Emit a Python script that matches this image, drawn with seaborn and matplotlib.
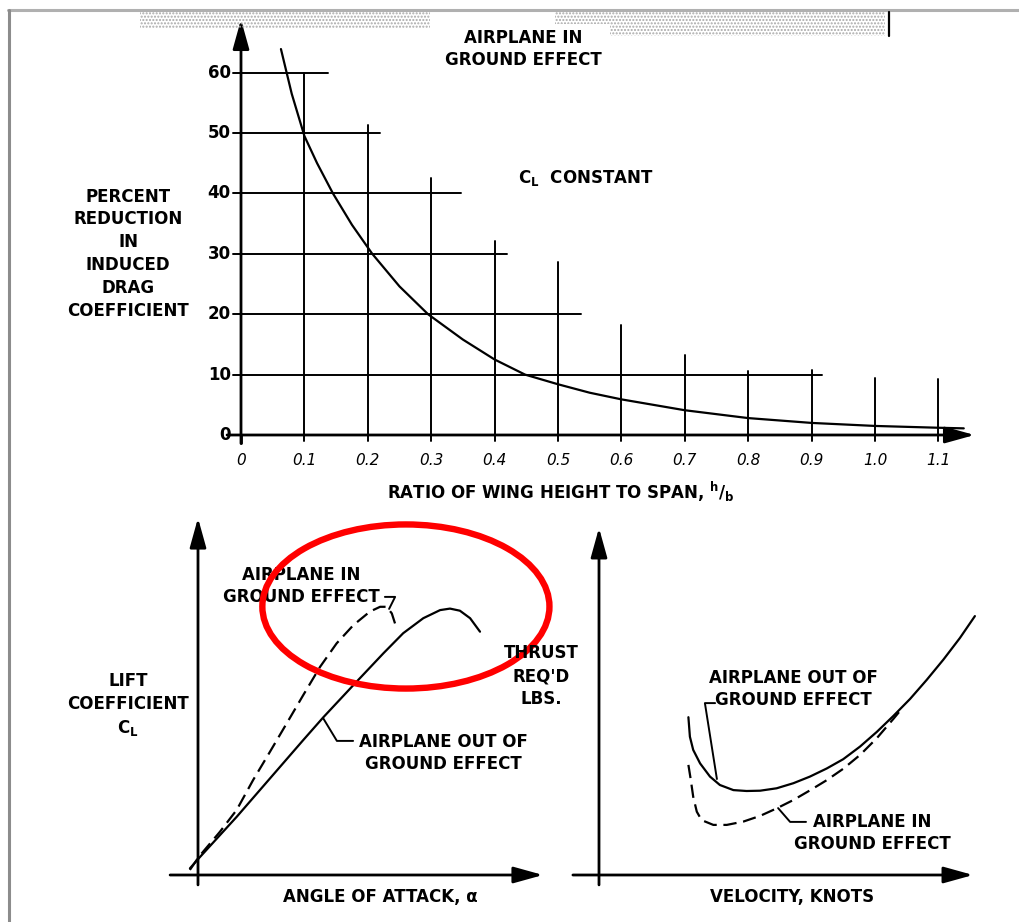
"""
Ground effect charts: induced drag reduction vs h/b, lift curve and thrust required.
"""

import matplotlib
matplotlib.use("Agg")
import matplotlib.pyplot as plt
from matplotlib.patches import Ellipse, Rectangle
from matplotlib.lines import Line2D
import seaborn as sns

sns.set_style("white")
plt.rcParams['font.family'] = ['DejaVu Sans']
plt.rcParams['font.weight'] = 'bold'
plt.rcParams['text.color'] = 'black'
plt.rcParams['mathtext.default'] = 'regular'

# --- top chart: percent reduction in induced drag vs h/b ---
hb = [0.063, 0.08, 0.1, 0.12, 0.145, 0.175, 0.207, 0.25, 0.295, 0.35, 0.4,
      0.448, 0.5, 0.55, 0.6, 0.7, 0.8, 0.9, 1.0, 1.1, 1.14]
reduction = [63.9, 56.5, 49.5, 45.0, 40.0, 34.8, 30.0, 24.6, 20.0, 15.8, 12.5,
             10.0, 8.4, 7.0, 5.9, 4.1, 2.8, 2.0, 1.5, 1.2, 1.1]
y_ticks = [0, 10, 20, 30, 40, 50, 60]
x_ticks = [0, 0.1, 0.2, 0.3, 0.4, 0.5, 0.6, 0.7, 0.8, 0.9, 1.0, 1.1]
x_tick_labels = ["0", "0.1", "0.2", "0.3", "0.4", "0.5", "0.6", "0.7", "0.8",
                 "0.9", "1.0", "1.1"]
# staggered grid: horizontal lines end at these h/b, vertical lines stop at these %
grid_h_levels = [10, 20, 30, 40, 50, 60]
grid_h_ends = [0.916, 0.536, 0.42, 0.347, 0.219, 0.137]
grid_v_pos = [0.1, 0.2, 0.3, 0.4, 0.5, 0.6, 0.7, 0.8, 0.9, 1.0, 1.1]
grid_v_tops = [60, 51.4, 42.5, 32.1, 28.6, 18.2, 13.2, 10.6, 10.8, 9.5, 9.3]

# --- bottom left: lift coefficient vs angle of attack (no scale, relative units) ---
alpha_out = [-0.27, 0.03, 1.29, 2.4, 3.51, 4.18, 5.18, 6.18, 6.84, 7.51, 8.07,
             8.4, 8.73, 9.07, 9.4]
cl_out = [0.22, 0.56, 1.94, 3.22, 4.5, 5.26, 6.33, 7.39, 8.06, 8.56, 8.83,
          8.88, 8.81, 8.56, 8.11]
alpha_in = [-0.27, 0.03, 0.73, 1.29, 1.84, 2.4, 2.96, 3.51, 4.07, 4.62, 5.18,
            5.73, 6.07, 6.29, 6.46, 6.62]
cl_in = [0.17, 0.61, 1.44, 2.17, 3.17, 4.11, 5.06, 6.0, 6.94, 7.72, 8.33,
         8.78, 8.94, 8.94, 8.72, 8.22]

# --- bottom right: thrust required vs velocity (relative units) ---
vel_out = [2.98, 3.03, 3.14, 3.37, 3.7, 4.03, 4.48, 4.92, 5.37, 5.92, 6.48,
           7.03, 7.59, 8.14, 8.7, 9.26, 9.81, 10.37, 10.92, 11.48, 12.03, 12.53]
thr_out = [5.26, 4.61, 4.17, 3.72, 3.28, 3.0, 2.83, 2.8, 2.81, 2.89, 3.06,
           3.28, 3.55, 3.86, 4.28, 4.77, 5.3, 5.87, 6.5, 7.18, 7.9, 8.63]
vel_in = [2.98, 3.06, 3.14, 3.26, 3.42, 3.81, 4.26, 4.81, 5.37, 5.92, 6.48,
          7.03, 7.59, 8.14, 8.7, 9.26, 9.81, 10.1]
thr_in = [3.67, 3.17, 2.61, 2.11, 1.83, 1.67, 1.67, 1.78, 1.97, 2.22, 2.5,
          2.82, 3.16, 3.54, 4.0, 4.56, 5.2, 5.55]

W, H = 1020, 922
FS = 12
DASH = (0, (6, 3))


def box(left, top, right, bottom):
    """Axes position from pixel edges."""
    return [left / W, 1 - bottom / H, (right - left) / W, (bottom - top) / H]


def axis_arrow(ax, start, tip):
    ax.annotate('', xy=tip, xytext=start, annotation_clip=False,
                arrowprops=dict(arrowstyle='-|>,head_length=0.9,head_width=0.25',
                                color='black', lw=2, mutation_scale=20,
                                shrinkA=0, shrinkB=0))


def bare(ax):
    for s in ax.spines.values():
        s.set_visible(False)
    ax.set_xticks([])
    ax.set_yticks([])
    ax.patch.set_alpha(0)


fig = plt.figure(figsize=(W / 100, H / 100), dpi=100)

# scan frame and smudges
fig.add_artist(Line2D([8 / W, 1], [1 - 10 / H, 1 - 10 / H], color='#b0b0b0', lw=2.2,
                      transform=fig.transFigure))
fig.add_artist(Line2D([9 / W, 9 / W], [0, 1 - 10 / H], color='#8c8c8c', lw=2.2,
                      transform=fig.transFigure))
for (l, t, r, b) in [(140, 11, 430, 28), (555, 11, 610, 24), (610, 11, 885, 36)]:
    fig.add_artist(Rectangle((l / W, 1 - b / H), (r - l) / W, (b - t) / H,
                             transform=fig.transFigure, fill=False, lw=0,
                             hatch='.....', edgecolor='#a8a8a8'))
fig.add_artist(Line2D([889 / W, 889 / W], [1 - 12 / H, 1 - 36 / H], color='black',
                      lw=1.6, transform=fig.transFigure))

# ---------------- top chart ----------------
ax1 = fig.add_axes(box(200, 15, 1000, 450))
bare(ax1)
ax1.set_xlim((200 - 241) / 634, (1000 - 241) / 634)
ax1.set_ylim((435 - 450) / 6.04, (435 - 15) / 6.04)

for lev, end in zip(grid_h_levels, grid_h_ends):
    ax1.plot([-0.012, end], [lev, lev], color='black', lw=1.4)
for xp, top in zip(grid_v_pos, grid_v_tops):
    ax1.plot([xp, xp], [-1.0, top], color='black', lw=1.4)
ax1.plot([0, 0], [-1.4, 0], color='black', lw=2)
ax1.plot([-0.012, 0], [0, 0], color='black', lw=1.4)
axis_arrow(ax1, (0, -1.4), (0, 68.8))
axis_arrow(ax1, (-0.022, 0), (1.157, 0))

sns.lineplot(x=hb, y=reduction, ax=ax1, color='black', lw=1.6, sort=False)

for v in y_ticks:
    ax1.text(-0.016, v, str(v), ha='right', va='center', fontsize=FS)
for v, lab in zip(x_ticks, x_tick_labels):
    ax1.text(v, -4.2, lab, ha='center', va='center', fontsize=FS - 1,
             fontweight='normal', style='italic')
ax1.text(0.505, -9.4, r"RATIO OF WING HEIGHT TO SPAN, $^{h}/_{b}$",
         ha='center', va='center', fontsize=FS)
ax1.text(-0.178, 30.0, "PERCENT\nREDUCTION\nIN\nINDUCED\nDRAG\nCOEFFICIENT",
         ha='center', va='center', fontsize=FS, linespacing=1.35)
ax1.text(0.445, 63.9, "AIRPLANE IN\nGROUND EFFECT", ha='center', va='center',
         fontsize=FS, linespacing=1.3)
ax1.text(0.543, 42.5, r"C$_L$  CONSTANT", ha='center', va='center', fontsize=FS)

# ---------------- bottom left: lift curve ----------------
ax2 = fig.add_axes(box(150, 505, 560, 910))
bare(ax2)
ax2.set_xlim((150 - 198) / 30, (560 - 198) / 30)
ax2.set_ylim((875 - 910) / 30, (875 - 505) / 30)
axis_arrow(ax2, (0, -0.33), (0, 11.9))
axis_arrow(ax2, (-0.93, 0), (11.5, 0))

sns.lineplot(x=alpha_out, y=cl_out, ax=ax2, color='black', lw=1.6, sort=False)
sns.lineplot(x=alpha_in, y=cl_in, ax=ax2, color='black', lw=1.6, sort=False,
             linestyle=DASH)

ax2.plot([4.17, 4.63, 5.17], [5.23, 4.47, 4.47], color='black', lw=1.4)
ax2.plot([6.23, 6.57, 6.37], [9.27, 9.27, 8.87], color='black', lw=1.4)
ax2.text(3.43, 9.63, "AIRPLANE IN\nGROUND EFFECT", ha='center', va='center',
         fontsize=FS, linespacing=1.3)
ax2.text(8.17, 4.07, "AIRPLANE OUT OF\nGROUND EFFECT", ha='center', va='center',
         fontsize=FS, linespacing=1.3)
ax2.text(-2.33, 5.67, "LIFT\nCOEFFICIENT\nC$_L$", ha='center', va='center',
         fontsize=FS, linespacing=1.35)
ax2.text(6.07, -0.72, "ANGLE OF ATTACK, α", ha='center', va='center', fontsize=FS)
ax2.add_patch(Ellipse((6.93, 8.95), 9.57, 5.47, fill=False, ec='red', lw=4.6,
                      clip_on=False, zorder=5))

# ---------------- bottom right: thrust required ----------------
ax3 = fig.add_axes(box(565, 505, 1010, 910))
bare(ax3)
ax3.set_xlim((565 - 599) / 30, (1010 - 599) / 30)
ax3.set_ylim((875 - 910) / 30, (875 - 505) / 30)
axis_arrow(ax3, (0, -0.33), (0, 11.57))
axis_arrow(ax3, (-0.87, 0), (12.47, 0))

sns.lineplot(x=vel_out, y=thr_out, ax=ax3, color='black', lw=1.6, sort=False)
sns.lineplot(x=vel_in, y=thr_in, ax=ax3, color='black', lw=1.6, sort=False,
             linestyle=DASH)

ax3.plot([3.87, 3.53, 3.93], [5.73, 5.73, 3.2], color='black', lw=1.4)
ax3.plot([5.97, 6.37, 6.9], [2.23, 1.77, 1.77], color='black', lw=1.4)
ax3.text(6.47, 6.2, "AIRPLANE OUT OF\nGROUND EFFECT", ha='center', va='center',
         fontsize=FS, linespacing=1.3)
ax3.text(9.1, 1.4, "AIRPLANE IN\nGROUND EFFECT", ha='center', va='center',
         fontsize=FS, linespacing=1.3)
ax3.text(-1.93, 6.63, "THRUST\nREQ'D\nLBS.", ha='center', va='center',
         fontsize=FS, linespacing=1.35)
ax3.text(6.43, -0.72, "VELOCITY, KNOTS", ha='center', va='center', fontsize=FS)

fig.savefig("out.png", dpi=100)
